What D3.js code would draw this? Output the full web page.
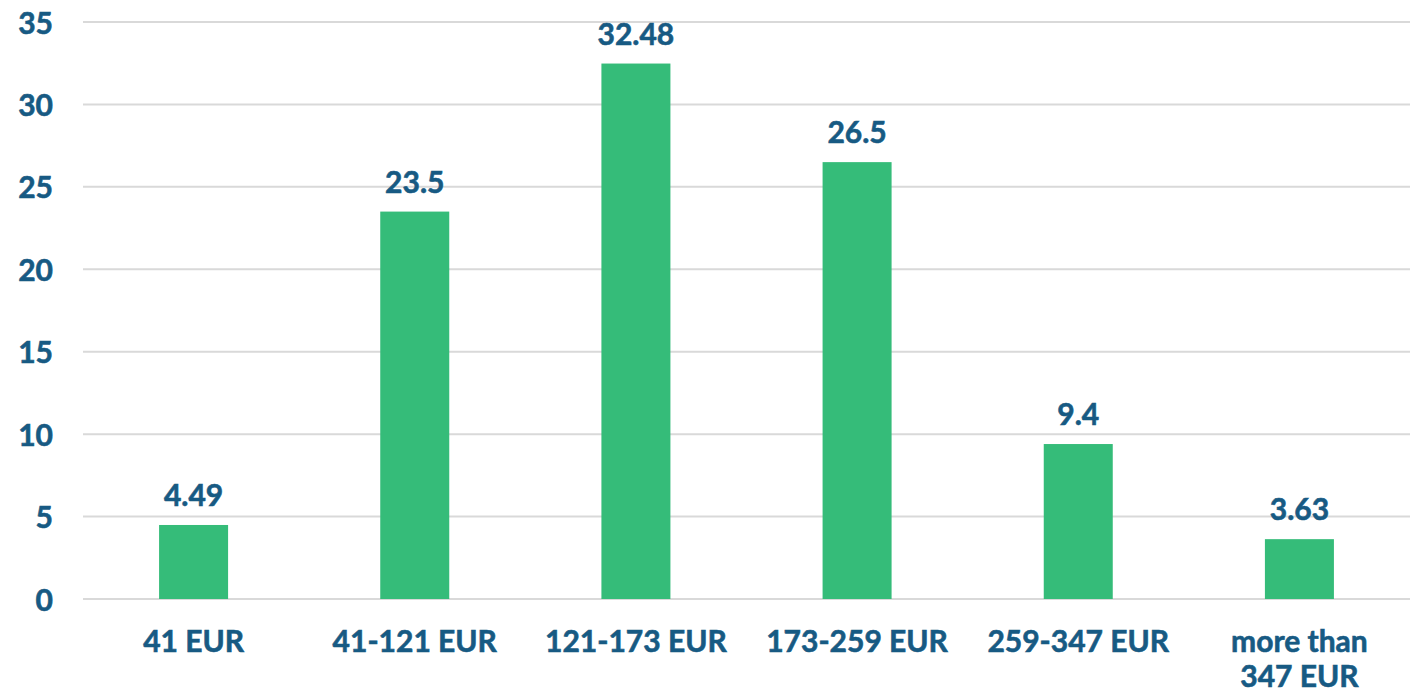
<!DOCTYPE html>
<html>
<head>
<meta charset="utf-8">
<script src="https://cdn.jsdelivr.net/npm/d3@7"></script>
<style>
  body { margin: 0; background: #fff; }
  text { font-family: Lato, "Open Sans", sans-serif; font-weight: bold; fill: #175a83; stroke: #175a83; stroke-width: 0.6px; }
</style>
</head>
<body>
<script>
var width = 1423,
    height = 693;

// data
var categories = ["41 EUR", "41-121 EUR", "121-173 EUR", "173-259 EUR", "259-347 EUR", "more than 347 EUR"];
var values = [4.49, 23.5, 32.48, 26.5, 9.4, 3.63];
var valueLabels = ["4.49", "23.5", "32.48", "26.5", "9.4", "3.63"];
var yTicks = [0, 5, 10, 15, 20, 25, 30, 35];

var margin = {left: 83, right: 13, top: 22, bottom: 95};

var svg = d3.select('body').append('svg')
    .attr('width', width)
    .attr('height', height);

var x = d3.scaleBand()
    .domain(categories)
    .range([margin.left, width - margin.right])
    .paddingInner(0.688)
    .paddingOuter(0.344);

var y = d3.scaleLinear()
    .domain([0, 35])
    .range([height - margin.bottom + 1, margin.top]);

/* gridlines */
svg.append('g')
    .selectAll('line')
    .data(yTicks)
    .enter().append('line')
    .attr('x1', margin.left)
    .attr('x2', width - margin.right)
    .attr('y1', function(d) { return y(d); })
    .attr('y2', function(d) { return y(d); })
    .attr('stroke', '#d9d9d9')
    .attr('stroke-width', 2);

/* y axis labels */
var yAxis = d3.axisLeft(y).tickValues(yTicks).tickSize(0).tickPadding(0);
var gy = svg.append('g')
    .attr('transform', 'translate(53,0)')
    .call(yAxis);
gy.select('.domain').remove();
gy.selectAll('text')
    .attr('dy', null)
    .attr('y', 11)
    .style('font-size', '30px')
    .style('font-family', null);

/* bars */
svg.append('g')
    .selectAll('rect')
    .data(values)
    .enter().append('rect')
    .attr('x', function(d, i) { return x(categories[i]); })
    .attr('width', x.bandwidth())
    .attr('y', function(d) { return y(d); })
    .attr('height', function(d) { return y(0) - y(d); })
    .attr('fill', '#35bc79');

/* value labels */
svg.append('g')
    .selectAll('text')
    .data(values)
    .enter().append('text')
    .attr('x', function(d, i) { return x(categories[i]) + x.bandwidth() / 2; })
    .attr('y', function(d) { return y(d) - 19; })
    .attr('text-anchor', 'middle')
    .style('font-size', '30px')
    .text(function(d, i) { return valueLabels[i]; });

/* category labels, wrapped like the original */
var lines = {"more than 347 EUR": ["more than", "347 EUR"]};
var cat = svg.append('g')
    .selectAll('text')
    .data(categories)
    .enter().append('text')
    .attr('x', function(d) { return x(d) + x.bandwidth() / 2; })
    .attr('y', 652)
    .attr('text-anchor', 'middle')
    .style('font-size', '30px');

cat.each(function(d) {
    var t = d3.select(this);
    (lines[d] || [d]).forEach(function(l, i) {
        t.append('tspan')
            .attr('x', t.attr('x'))
            .attr('dy', i ? 35 : 0)
            .text(l);
    });
});
</script>
</body>
</html>
